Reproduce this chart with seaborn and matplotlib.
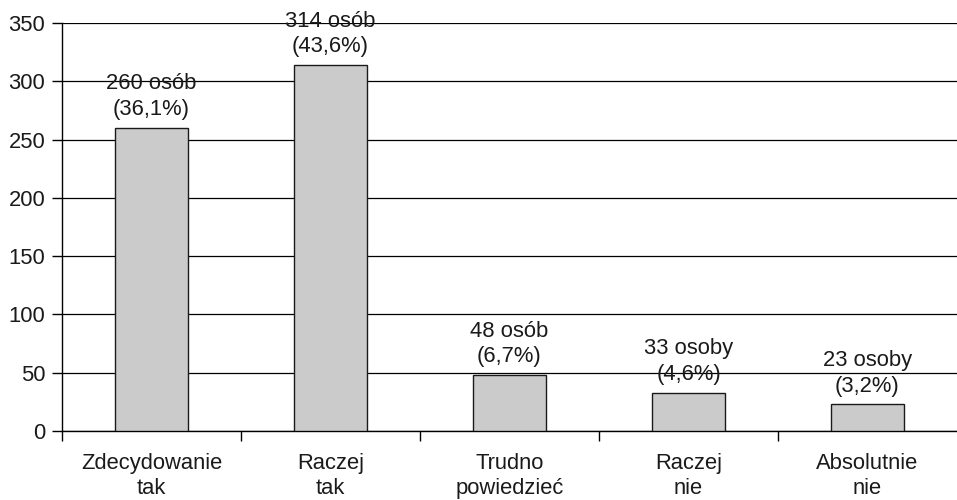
import numpy as np
import pandas as pd
import seaborn as sn
from matplotlib import pyplot as plt

# survey answers (counts and shares)
categories = ["Zdecydowanie\ntak", "Raczej\ntak", "Trudno\npowiedzieć", "Raczej\nnie", "Absolutnie\nnie"]
counts = [260, 314, 48, 33, 23]
count_words = ["osób", "osób", "osób", "osoby", "osoby"]
percents = ["36,1%", "43,6%", "6,7%", "4,6%", "3,2%"]
y_ticks = [0, 50, 100, 150, 200, 250, 300, 350]

sn.set_style("white")
plt.rcParams['font.family'] = ['Liberation Sans', 'DejaVu Sans']
plt.rcParams['text.color'] = '#1a1a1a'

df = pd.DataFrame({"answer": categories, "count": counts})

fig = plt.figure(figsize=(9.57, 5.0), dpi=100)
ax = fig.add_axes([62 / 957, 1 - 431 / 500, 1 - 62 / 957, (431 - 23) / 500])

sn.barplot(data=df, x="answer", y="count", color="#cbcbcb", edgecolor="#1a1a1a",
           linewidth=1.0, width=0.41, saturation=1, ax=ax, zorder=3)

ax.set_ylim(0, 350)
ax.set_xlim(-0.5, 4.5)
ax.set_yticks(y_ticks)
ax.yaxis.grid(True, color="black", linewidth=0.9)
ax.set_axisbelow(True)

for s in ["top", "right"]:
    ax.spines[s].set_visible(False)
for s in ["left", "bottom"]:
    ax.spines[s].set_color("black")
    ax.spines[s].set_linewidth(1.0)

fs = 15.8
ax.set_xlabel("")
ax.set_ylabel("")
ax.set_xticks(np.arange(len(categories)))
ax.set_xticklabels(categories, fontsize=fs, color="#1a1a1a", linespacing=1.25)
ax.set_xticks(np.arange(len(categories)) - 0.5, minor=True)
ax.tick_params(axis="x", which="major", length=0, pad=16, bottom=True)
ax.tick_params(axis="x", which="minor", length=7, width=1, color="black",
               direction="out", bottom=True)
ax.tick_params(axis="y", length=7, width=1, color="black", pad=5, labelsize=fs,
               labelcolor="#1a1a1a", left=True)

for i, (c, w, p) in enumerate(zip(counts, count_words, percents)):
    ax.annotate("{} {}\n({})".format(c, w, p), xy=(i, c), xytext=(0, 5.5),
                textcoords="offset points", ha="center", va="bottom",
                fontsize=fs, linespacing=1.3, zorder=4)

plt.savefig("out.png", dpi=100)
